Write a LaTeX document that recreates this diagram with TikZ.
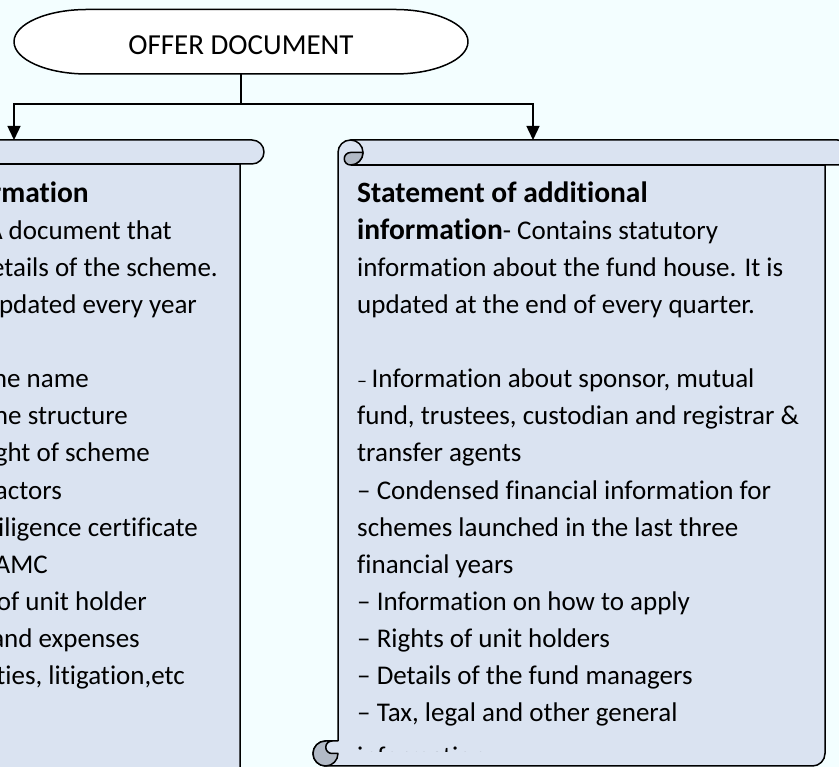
\documentclass[tikz,border=0pt]{standalone}
\usepackage{fontspec}
\setmainfont{Carlito}[Ligatures=NoCommon]
\usetikzlibrary{arrows.meta}
\definecolor{bgc}{RGB}{243,254,255}
\definecolor{scrollfill}{RGB}{218,227,241}
\definecolor{curlfill}{RGB}{178,186,198}
\newcommand\hbold[1]{{\fontsize{29.5}{33}\selectfont\bfseries #1}}
\begin{document}
\begin{tikzpicture}[x=1pt,y=1pt,
  outline/.style={draw=black, line width=1.5pt, line join=round},
  scrollbody/.style={outline, fill=scrollfill},
  curl/.style={outline, fill=curlfill},
  arr/.style={draw=black, line width=1.5pt, -{Triangle[length=14pt,width=13pt]}},
  txt/.style={font=\fontsize{27}{33}\selectfont, inner sep=0pt, anchor=base west},
  ltxt/.style={txt, anchor=base east},
  titletxt/.style={font=\fontsize{29}{35}\selectfont, inner sep=0pt}]
\useasboundingbox (0,0) rectangle (839,767);
\fill[bgc] (0,0) rectangle (839,767);
\clip (0,0) rectangle (839,767);

% ---------- left scroll (cut off) ----------
\path[scrollbody] (-50,627) -- (252,627) arc[start angle=90,end angle=-90,radius=12]
  -- (240,603) -- (240,-20) -- (-50,-20) -- cycle;
\draw[outline] (-50,603) -- (240,603);

% ---------- right scroll ----------
\path[scrollbody] (338,614.5) arc[start angle=180,end angle=90,radius=12.5]
  -- (837.5,627) arc[start angle=90,end angle=-90,radius=12.5]
  -- (825,602) -- (825,13.5) arc[start angle=0,end angle=-90,radius=12.5]
  -- (325.5,1) arc[start angle=270,end angle=90,radius=12.5]
  -- (338,26) -- cycle;
\draw[outline] (350.5,602) -- (825,602);
\draw[outline] (350.5,627) arc[start angle=90,end angle=-90,radius=12.5];
\path[curl] (350.5,614.5) -- (363,614.5) arc[start angle=0,end angle=-90,radius=12.5]
  arc[start angle=270,end angle=90,radius=6.25] -- cycle;
\path[curl] (325.5,26) arc[start angle=90,end angle=360,radius=12.5]
  -- (332,13.5) arc[start angle=270,end angle=90,radius=6.25] -- cycle;

% ---------- terminator ----------
\path[outline, fill=white] (87,757.5) -- (395,757.5)
  arc[start angle=90,end angle=-90,x radius=73,y radius=32.25]
  -- (87,693) arc[start angle=270,end angle=90,x radius=73,y radius=32.25] -- cycle;
\node[titletxt] (offer) at (241,721.5) {OFFER DOCUMENT};

% ---------- connectors ----------
\coordinate (offerbot) at (241,693);
\coordinate (junc) at (241,663);
\coordinate (sidtop) at (14,627);
\coordinate (saitop) at (533,627);
\draw[arr] (offerbot) -- (junc) -| (sidtop);
\draw[arr] (junc) -| (saitop);

% ---------- left text ----------
\foreach \k/\x/\t in {0/89/{\hbold{rmation}}, 1/172/{A document that},
  2/218/{etails of the scheme.}, 3/197/{updated every year},
  5/89/{me name}, 6/128/{me structure}, 7/150/{ght of scheme},
  8/62/{actors}, 9/198/{iligence certificate}, 10/48/{AMC},
  11/147/{of unit holder}, 12/140/{and expenses}, 13/185/{ties, litigation,etc}}
  \node[ltxt] (L\k) at (\x,{564.5-37.07*\k}) {\t};

% ---------- right text ----------
\foreach \k/\t in {0/{\hbold{Statement of additional}},
  1/{\hbold{information}- Contains statutory},
  2/{information about the fund house. It is},
  3/{updated at the end of every quarter.},
  5/{{\fontsize{20}{20}\selectfont –}\,Information about sponsor, mutual},
  6/{fund, trustees, custodian and registrar \&},
  7/{transfer agents},
  8/{– Condensed financial information for},
  9/{schemes launched in the last three},
  10/{financial years},
  11/{– Information on how to apply},
  12/{– Rights of unit holders},
  13/{– Details of the fund managers},
  14/{– Tax, legal and other general}}
  \node[txt] (R\k) at (357,{564.5-37.07*\k}) {\t};
\begin{scope}
  \clip (340,15) rectangle (820,60);
  \node[txt] (R15) at (357,1) {information};
\end{scope}
\end{tikzpicture}
\end{document}
